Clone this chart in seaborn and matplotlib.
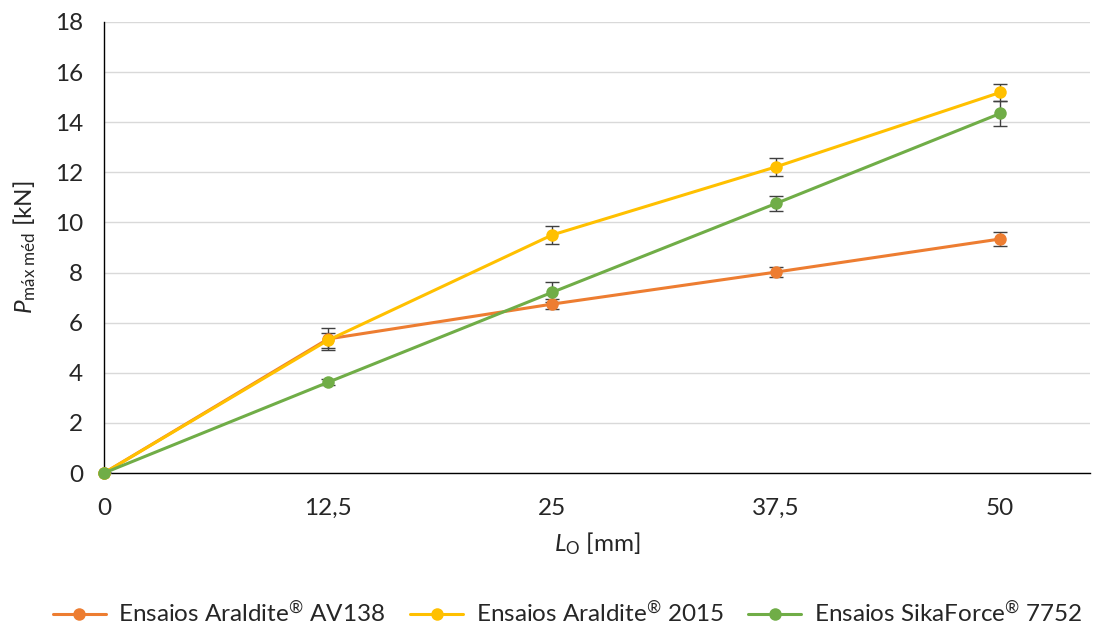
import matplotlib
matplotlib.use("Agg")
import matplotlib.pyplot as plt
import seaborn as sns
import pandas as pd
import numpy as np

# ---- data ----
L0 = [0, 12.5, 25, 37.5, 50]
series_names = ["Ensaios Araldite® AV138", "Ensaios Araldite® 2015", "Ensaios SikaForce® 7752"]
legend_labels = [r"Ensaios Araldite$^{®}$ AV138", r"Ensaios Araldite$^{®}$ 2015",
                 r"Ensaios SikaForce$^{®}$ 7752"]
av138 = [0, 5.35, 6.74, 8.02, 9.34]
av138_err = [0, 0.45, 0.2, 0.2, 0.28]
a2015 = [0, 5.3, 9.5, 12.22, 15.19]
a2015_err = [0, 0.3, 0.37, 0.35, 0.33]
sika = [0, 3.62, 7.21, 10.76, 14.35]
sika_err = [0, 0.12, 0.4, 0.3, 0.5]
x_ticks = [0, 12.5, 25, 37.5, 50]
x_ticklabels = ["0", "12,5", "25", "37,5", "50"]
y_ticks = [0, 2, 4, 6, 8, 10, 12, 14, 16, 18]

colors = ["#ED7D31", "#FFC000", "#70AD47"]

sns.set_theme(style="white")
plt.rcParams['font.family'] = ['Lato', 'DejaVu Sans']
plt.rcParams['mathtext.fontset'] = 'custom'
plt.rcParams['mathtext.rm'] = 'Lato'
plt.rcParams['mathtext.it'] = 'Lato:italic'

FS = 17.5

rows = []
for name, vals in zip(series_names, [av138, a2015, sika]):
    for x, v in zip(L0, vals):
        rows.append({"L0": x, "P": v, "series": name})
df = pd.DataFrame(rows)

fig = plt.figure(figsize=(11.04, 6.28), dpi=100)
ax = fig.add_axes([0.0942, 0.2468, 0.893, 0.7182])

ax.yaxis.grid(True, color="#D9D9D9", linewidth=1)
ax.set_axisbelow(True)

for name, lab, vals, errs, c in zip(series_names, legend_labels, [av138, a2015, sika],
                                   [av138_err, a2015_err, sika_err], colors):
    ax.errorbar(L0, vals, yerr=errs, fmt='none', ecolor="#404040",
                elinewidth=1, capsize=5, capthick=1, zorder=3)
    sns.lineplot(data=df[df.series == name], x="L0", y="P", color=c,
                 marker="o", markersize=9, markeredgewidth=0, linewidth=2.2,
                 label=lab, ax=ax, zorder=4, clip_on=False)

ax.set_xlim(0, 55)
ax.set_ylim(0, 18)
ax.set_xticks(x_ticks)
ax.set_xticklabels(x_ticklabels)
ax.set_yticks(y_ticks)
ax.tick_params(axis='both', labelsize=FS, length=5,
               width=1, direction='out', pad=6)
ax.tick_params(axis='x', color="#000000", pad=13)
ax.tick_params(axis='y', color="#000000", pad=10)
for lab in ax.get_xticklabels() + ax.get_yticklabels():
    lab.set_color("#262626")

for s in ["top", "right"]:
    ax.spines[s].set_visible(False)
for s in ["left", "bottom"]:
    ax.spines[s].set_color("#000000")
    ax.spines[s].set_linewidth(1)

ax.set_xlabel(r"$\mathit{L}_{\mathrm{O}}$ [mm]", fontsize=FS, color="#262626", labelpad=8)
ax.set_ylabel(r"$\mathit{P}_{\mathrm{máx\ méd}}$ [kN]", fontsize=FS, color="#262626", labelpad=12)

ax.legend(loc="center", bbox_to_anchor=(0.47, -0.31), ncol=3, frameon=False,
          fontsize=FS, handlelength=2.2, columnspacing=1.0, handletextpad=0.5,
          labelcolor="#262626")

fig.savefig("out.png", dpi=100)
